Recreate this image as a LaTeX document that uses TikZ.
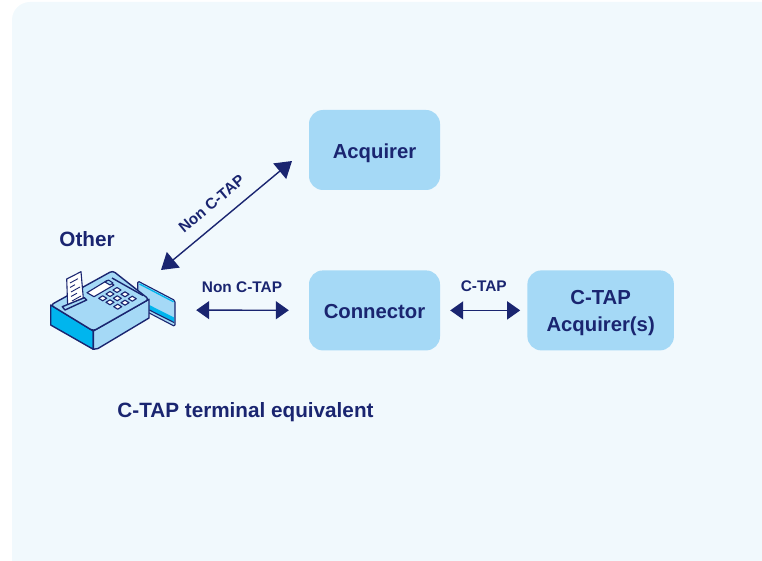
\documentclass[tikz,border=0pt]{standalone}
\usepackage{fontspec}
\setmainfont{Liberation Sans}
\usetikzlibrary{positioning}
\usetikzlibrary{arrows.meta}
\definecolor{navy}{HTML}{1A2570}
\definecolor{panel}{HTML}{F1F9FD}
\definecolor{boxblue}{HTML}{A5D9F6}
\definecolor{cyanblue}{HTML}{00B5EE}
\tikzset{
    box/.style={fill=boxblue, rounded corners=14pt, minimum height=80pt, font=\bfseries\fontsize{20.3}{26}\selectfont, text=navy, align=center, inner sep=0pt},
    oneline/.style={text height=16.6pt, text depth=0pt},
    tag/.style={font=\bfseries\fontsize{15.4}{18}\selectfont, text=navy, inner sep=0pt},
    heading/.style={font=\bfseries\fontsize{20.7}{24}\selectfont, text=navy, inner sep=0pt},
    biarrow/.style={draw=navy, line width=1.4pt, {Triangle[length=13pt,width=18pt]}-{Triangle[length=13pt,width=18pt]}},
    outline/.style={draw=navy, line width=1.4pt, line join=round},
    fine/.style={draw=navy, line width=1.1pt, line join=round}
}
\begin{document}
\begin{tikzpicture}[x=1pt, y=-1pt]
    \useasboundingbox (0,0) rectangle (762,561);
    \fill[panel] (762,561) -- (12,561) -- (12,20) arc[start angle=180, end angle=90, radius=18pt] -- (762,2) -- cycle;

    % Nodes
    \node[box, oneline, minimum width=131pt] (acquirer) at (374.5,150) {Acquirer};
    \node[box, oneline, minimum width=131pt, below=80pt of acquirer] (connector) {Connector};
    \node[box, minimum width=146.5pt, right=87pt of connector] (ctap) {\rule{0pt}{19pt}C-TAP\\[1pt]Acquirer(s)};
    \node[minimum width=126pt, minimum height=80pt, inner sep=0pt] (terminal) at (112,310) {};
    \coordinate (diagA) at (292,161);
    \coordinate (diagB) at (161,270);

    % Terminal
    \draw[fine, fill=boxblue, rounded corners=1.5pt] (137.7,281) -- (175,300.5) -- (175,326.5) -- (137.7,307) -- cycle;
    \fill[cyanblue] (149.3,305) -- (174,317.5) -- (174,322) -- (149.3,310) -- cycle;
    \draw[fine] (149.3,310) -- (174,322.5);
    \draw[draw=cyanblue, line width=1.3pt] (139.5,284) -- (173.5,301.8);
    \draw[outline, fill=cyanblue] (50.7,305) -- (50.7,325) -- (93.3,349.3) -- (93.3,331) -- cycle;
    \draw[outline, fill=boxblue] (93.3,331) -- (93.3,349.3) -- (98,348.5) -- (149,318) -- (149,299.3) -- cycle;
    \draw[outline, fill=boxblue, rounded corners=3pt] (50.7,305) -- (112.7,270.7) -- (149,299.3) -- (93.3,331) -- cycle;
    \draw[outline] (112,278) -- (143,295.5);
    \draw[fine, fill=white] (87,292.7) -- (106.7,280.7) -- (114,285) -- (94,296.7) -- cycle;
    \draw[fine, fill=boxblue] (105,282) -- (108.5,280) -- (113,283) -- (110,285) -- cycle;
    \foreach \kx/\ky in {117/290, 125/294.3, 132.3/298.7, 110/294, 117.3/298.3, 125/302.7, 102.7/298.3, 110/302.3, 117.7/306.7} {
        \draw[fine, fill=white] (\kx-4,\ky) -- (\kx,\ky-2.5) -- (\kx+4,\ky) -- (\kx,\ky+2.5) -- cycle;
    }
    \draw[fine, fill=white] (66.7,279) -- (81,271.7) -- (83.3,298) -- (67.7,306.7) -- cycle;
    \draw[navy, line width=0.9pt] (70,283) -- (78,278.7) (70,287.5) -- (75,284.7) (71,292) -- (80,287) (71,296.5) -- (77,293.2) (72,301) -- (81,296);
    \draw[outline, fill=boxblue] (62.3,306.7) -- (84.3,297.7) -- (86.7,300) -- (65,310) -- cycle;

    % Edges
    \draw[biarrow, {Triangle[length=16pt,width=20pt]}-{Triangle[length=16pt,width=20pt]}] (diagB) -- (diagA) node[tag, midway, sloped, above=12.5pt, xshift=-4pt] (diaglabel) {Non C-TAP};
    \draw[biarrow, shorten <=21pt, shorten >=20pt] (terminal) -- (connector) node[tag, pos=0.5, yshift=23.5pt] (rowlabel) {Non C-TAP};
    \draw[biarrow, shorten <=10pt, shorten >=7pt] (connector) -- (ctap) node[tag, pos=0.5, yshift=24.5pt] (ctaplabel) {C-TAP};

    % Captions
    \node[heading] (other) at (87,239) {Other};
    \node[heading] (caption) at (245.5,412.5) {C-TAP terminal equivalent};
\end{tikzpicture}
\end{document}
